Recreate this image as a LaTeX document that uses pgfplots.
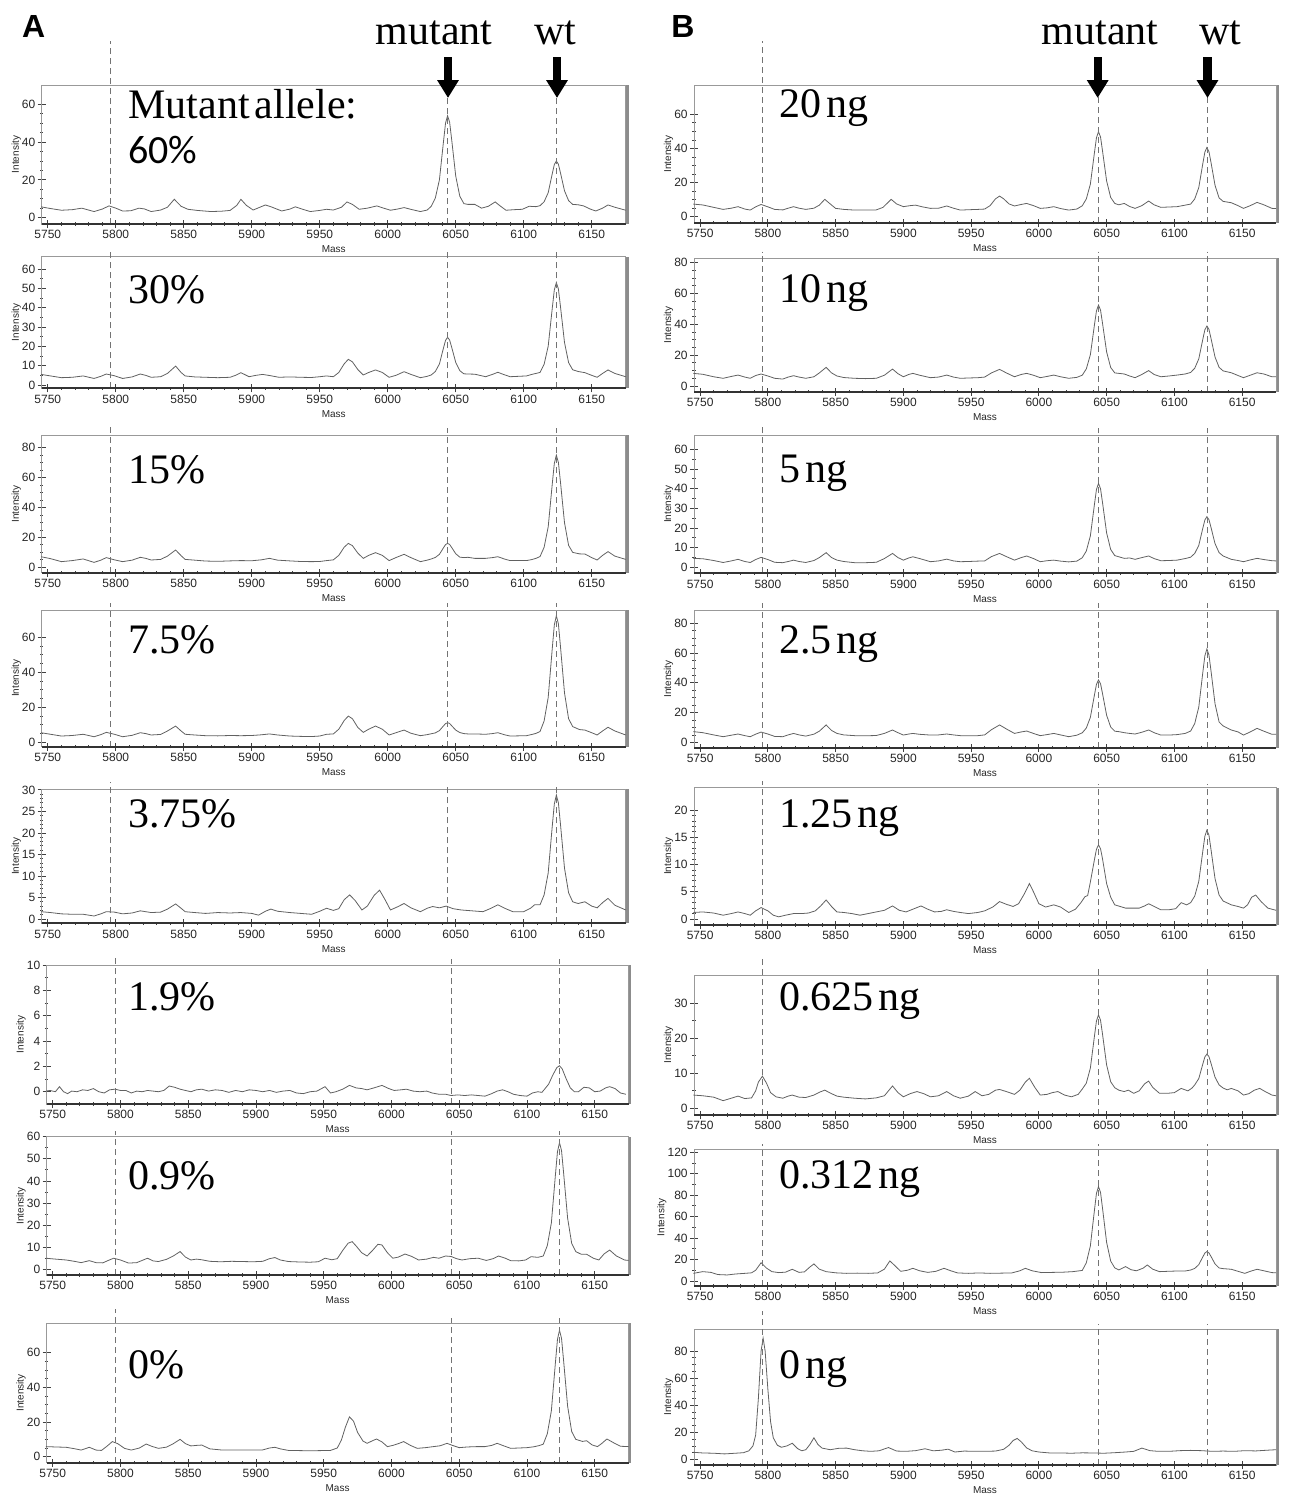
\documentclass[border=0pt]{standalone}
\usepackage{fontspec}
\setmainfont{Liberation Serif}
\newfontfamily\sansfnt{Liberation Sans}
\newfontfamily\calib{Carlito}
\usepackage{pgfplots}
\pgfplotsset{compat=1.18}
\usetikzlibrary{arrows.meta}

\newcommand\tlfont{\sansfnt\fontsize{6}{6.5}\selectfont}
\newcommand\lbfont{\sansfnt\fontsize{5}{6}\selectfont}
\newcommand\bigfont{\fontsize{21}{24}\selectfont}

\pgfplotsset{
  spec/.style={
    scale only axis, anchor=south west, clip=false,
    xmin=5745.5, xmax=6175,
    xtick={5750,5800,...,6150}, minor x tick num=4,
    xtick pos=bottom, ytick pos=left,
    tick align=center,
    major tick length=4pt, minor tick length=1.6pt,
    every tick/.style={black!75, line width=0.4pt},
    axis line style={black!40, line width=0.5pt},
    ticklabel style={font=\tlfont, text=black!85},
    xticklabel style={inner sep=1pt},
    yticklabel style={inner sep=1pt},
    xlabel={Mass}, ylabel={Intensity},
    xlabel style={font=\lbfont, text=black!85, yshift=1pt},
    ylabel style={font=\lbfont, text=black!85, yshift=-4pt},
    /pgf/number format/1000 sep={},
    /pgf/number format/assume math mode=true,
    cycle list={{color=black!62, line width=0.75pt, line join=round, mark=none}},
  }
}

% dashed marker lines at 5796 / 6044 / 6124, dark x axis, shadowed right edge
\newcommand\specmarks[2]{%
  \draw[densely dashed, black!55, line width=0.35pt] ({axis cs:5796,0}|-{rel axis cs:0,0}) -- ({axis cs:5796,0}|-{rel axis cs:0,#1});
  \draw[densely dashed, black!55, line width=0.35pt] ({axis cs:6044,0}|-{rel axis cs:0,0}) -- ({axis cs:6044,0}|-{rel axis cs:0,#2});
  \draw[densely dashed, black!55, line width=0.35pt] ({axis cs:6124,0}|-{rel axis cs:0,0}) -- ({axis cs:6124,0}|-{rel axis cs:0,#2});
  \draw[black!80, line width=0.9pt] (rel axis cs:0,0) -- (rel axis cs:1,0);
  \draw[black!45, line width=1.1pt] (rel axis cs:1.003,0) -- (rel axis cs:1.003,1);
}

\begin{document}
\begin{tikzpicture}
\useasboundingbox (0,0) rectangle (645.5pt,-749.5pt);

% ---------------- column A ----------------
\begin{axis}[spec, at={(20.85pt,-112pt)}, width=292pt, height=69.5pt,
  ymin=-3.4, ymax=70.3, ytick={0,20,40,60}, minor y tick num=3]
\addplot coordinates {(5745,5.7)(5752,4.8)(5760,3.9)(5768,4.2)(5775,5.0)(5784,3.2)(5790,4.5)(5795,6.2)(5800,5.0)(5805,3.5)(5811,3.6)(5817,5.0)(5821,4.6)(5826,3.2)(5833,4.0)(5838,5.5)(5843,9.7)(5848,6.0)(5853,4.4)(5860,3.8)(5870,3.2)(5878,3.4)(5884,3.8)(5889,6.5)(5892,9.7)(5896,6.5)(5901,4.0)(5906,5.5)(5910,6.7)(5915,5.5)(5922,3.5)(5928,4.5)(5932,5.7)(5937,4.5)(5943,3.2)(5950,3.8)(5955,4.4)(5960,4.0)(5966,5.5)(5970,8.3)(5974,7.0)(5979,4.4)(5985,5.0)(5992,6.2)(5997,5.0)(6002,3.9)(6007,4.5)(6012,5.3)(6018,4.2)(6024,3.2)(6029,4.0)(6032,6.0)(6035,10.4)(6038,20)(6041,40.4)(6042.5,50.1)(6044,54)(6045.5,50.6)(6047,41.4)(6050,22)(6053,11.3)(6056,7.4)(6059,7)(6064,7)(6069,5)(6074,6)(6079,8.3)(6083,6)(6087,3.9)(6093,4.2)(6099,4.4)(6104,6)(6109,5.8)(6112,6.3)(6115,8.4)(6118,13.2)(6121,23.3)(6122.5,28.1)(6124,30)(6125.5,28.3)(6127,23.8)(6130,14.2)(6133,9)(6136,7)(6140,6.8)(6144,6.2)(6149,4.5)(6153,3.5)(6158,5)(6162,6.7)(6167,5.5)(6175,3.9)};
\specmarks{1.32}{1.0}
\end{axis}

\begin{axis}[spec, at={(20.85pt,-194.15pt)}, width=292pt, height=65.8pt,
  ymin=-1.7, ymax=66.4, ytick={0,10,...,60}, minor y tick num=1]
\addplot coordinates {(5745,5.5)(5752,4.7)(5760,3.8)(5768,4.0)(5776,4.7)(5784,3.4)(5789,4.5)(5793,5.7)(5799,4.8)(5805,3.4)(5812,4.2)(5818,5.7)(5822,5.0)(5826,4.0)(5833,4.3)(5838,6.0)(5844,9.8)(5848,6.5)(5851,4.7)(5858,4.2)(5866,4.0)(5875,3.8)(5884,4.0)(5888,5.0)(5892,6.4)(5898,4.3)(5903,5.0)(5908,5.5)(5914,4.8)(5920,4.0)(5928,4.2)(5936,4.0)(5944,3.9)(5950,4.3)(5955,4.7)(5960,4.3)(5964,6.5)(5968,11)(5971,13.3)(5974,12)(5978,8)(5982,5.2)(5986,6.5)(5991,7.8)(5996,6.5)(6001,4.0)(6006,5)(6012,6.9)(6017,5.5)(6024,3.8)(6029,4.5)(6032,5.2)(6035,7)(6038,10.9)(6041,19.2)(6042.5,23.1)(6044,24.7)(6045.5,23.3)(6047,19.6)(6050,11.7)(6053,7.4)(6056,5.8)(6059,5.7)(6064,5.6)(6072,4.3)(6077,5.5)(6081,6.6)(6085,5.5)(6090,4.3)(6096,4.5)(6102,4.7)(6106,5.5)(6109,6.0)(6112,6.5)(6115,10.7)(6118,20.1)(6121,39.8)(6122.5,49.2)(6124,53)(6125.5,49.7)(6127,40.8)(6130,22)(6133,11.6)(6136,7.9)(6140,7.0)(6145,6.4)(6150,5)(6154,4.0)(6158,6.0)(6162,7.8)(6167,6.0)(6175,4.3)};
\specmarks{1.05}{1.05}
\end{axis}

\begin{axis}[spec, at={(20.85pt,-286.35pt)}, width=292pt, height=68.85pt,
  ymin=-3.6, ymax=88.5, ytick={0,20,...,80}, minor y tick num=3]
\addplot coordinates {(5745,7.1)(5752,5.8)(5760,3.8)(5768,4.5)(5776,5.6)(5784,3.3)(5789,4.8)(5793,6.5)(5799,5.0)(5805,3.8)(5812,4.8)(5818,6.7)(5822,6.0)(5826,4.9)(5833,5.3)(5838,7.5)(5844,11.6)(5848,7.8)(5851,5.3)(5858,4.8)(5866,4.2)(5875,4.0)(5884,4.3)(5892,4.5)(5900,4.4)(5907,5.0)(5913,6.0)(5919,4.8)(5928,4.3)(5936,3.9)(5944,3.8)(5950,3.9)(5955,4.5)(5960,5.0)(5964,8)(5968,13.5)(5971,16)(5974,14.5)(5978,9.5)(5982,6.0)(5986,8)(5991,9.8)(5996,8.0)(6001,4.5)(6006,6.5)(6012,8.7)(6017,6.5)(6024,3.8)(6029,4.8)(6032,5.6)(6035,6.6)(6038,8.7)(6041,13.1)(6042.5,15.2)(6044,16)(6045.5,15.3)(6047,13.3)(6050,9.1)(6053,6.8)(6056,6.5)(6059,6.7)(6064,6.0)(6072,6.0)(6077,6.5)(6081,7.1)(6086,5.5)(6090,4.5)(6096,4.5)(6102,4.5)(6106,5.2)(6109,6.0)(6112,7.2)(6115,13.4)(6118,27)(6121,55.8)(6122.5,69.5)(6124,75)(6125.5,70.2)(6127,57.2)(6130,29.8)(6133,14.7)(6136,10)(6141,9.0)(6145,8.9)(6150,6.5)(6154,4.9)(6158,8)(6162,10.5)(6167,7.5)(6175,5.3)};
\specmarks{1.07}{1.05}
\end{axis}

\begin{axis}[spec, at={(20.85pt,-373.35pt)}, width=292pt, height=68.35pt,
  ymin=-2.5, ymax=75.6, ytick={0,20,40,60}, minor y tick num=3]
\addplot coordinates {(5745,5.5)(5752,4.6)(5760,3.6)(5768,3.9)(5776,4.6)(5784,3.2)(5789,4.4)(5793,5.7)(5799,4.6)(5805,3.2)(5812,4.0)(5818,5.5)(5822,5.0)(5826,4.2)(5833,4.5)(5838,6.5)(5844,9.3)(5848,6.5)(5851,4.6)(5858,4.2)(5866,3.8)(5875,3.7)(5884,3.9)(5892,3.8)(5900,3.9)(5907,4.3)(5913,4.8)(5919,4.2)(5928,3.6)(5936,3.4)(5944,3.3)(5950,3.6)(5955,4.6)(5960,4.8)(5964,7.5)(5968,12.5)(5971,15)(5974,13.5)(5978,8.5)(5982,5.7)(5986,7.5)(5991,9.3)(5996,7.5)(6001,4.2)(6006,5.5)(6012,7.0)(6017,5.2)(6024,3.8)(6029,4.4)(6032,4.9)(6035,5.4)(6038,6.7)(6041,9.4)(6042.5,10.7)(6044,11.2)(6045.5,10.8)(6047,9.5)(6050,7)(6053,5.6)(6056,5)(6059,4.8)(6064,4.8)(6072,4.6)(6077,5.0)(6081,5.5)(6086,4.3)(6090,3.6)(6096,3.7)(6102,3.8)(6106,4.5)(6109,5.1)(6112,6.2)(6115,12.2)(6118,25.6)(6121,53.7)(6122.5,67.0)(6124,72.4)(6125.5,67.7)(6127,55)(6130,28.2)(6133,13.5)(6136,9)(6141,7.3)(6145,7.0)(6150,5.5)(6154,4.2)(6158,6.5)(6162,8.6)(6167,6.5)(6175,4.2)};
\specmarks{1.05}{1.05}
\end{axis}

\begin{axis}[spec, at={(20.85pt,-461.65pt)}, width=292pt, height=67.15pt,
  ymin=-1.0, ymax=30.2, ytick={0,5,...,30}, minor y tick num=4]
\addplot coordinates {(5745,1.7)(5752,1.5)(5760,1.2)(5768,1.1)(5776,1.1)(5784,0.7)(5789,1.2)(5793,1.7)(5799,1.6)(5805,1.2)(5812,1.4)(5818,1.9)(5822,1.7)(5826,1.5)(5833,1.6)(5838,2.3)(5844,3.5)(5848,2.5)(5851,1.7)(5858,1.5)(5866,1.3)(5875,1.5)(5884,1.4)(5892,1.5)(5900,1.3)(5905,0.9)(5910,1.8)(5914,2.3)(5919,1.8)(5928,1.5)(5936,1.3)(5944,1.1)(5950,1.8)(5955,2.5)(5960,2.0)(5964,2.4)(5968,4.5)(5972,5.6)(5976,4.3)(5981,2.1)(5985,3.0)(5990,5.5)(5994,6.7)(5998,4.5)(6002,2.1)(6007,2.8)(6012,3.6)(6017,2.6)(6024,1.7)(6029,2.5)(6033,2.9)(6038,2.6)(6043,3.0)(6048,2.4)(6054,2.1)(6062,1.9)(6070,1.7)(6076,2.5)(6081,3.3)(6086,2.5)(6092,1.7)(6100,1.7)(6105,2.5)(6108,3.3)(6112,3.3)(6115,5.6)(6118,10.7)(6121,21.6)(6122.5,26.7)(6124,28.8)(6125.5,27.0)(6127,22.1)(6130,11.8)(6133,6.1)(6136,4)(6140,3.6)(6145,4.0)(6150,3.0)(6154,2.6)(6158,3.8)(6162,4.8)(6167,3.2)(6175,2.1)};
\specmarks{1.05}{1.03}
\end{axis}

\begin{axis}[spec, at={(23.3pt,-552pt)}, width=291pt, height=69.5pt,
  ymin=-0.97, ymax=10, ytick={0,2,...,10}, minor y tick num=1]
\addplot coordinates {(5745,0.05)(5748,0.1)(5752,0.0)(5755,0.4)(5758,0.0)(5761,-0.15)(5764,0.05)(5768,0.0)(5772,0.15)(5776,0.1)(5780,0.25)(5784,0.0)(5788,-0.1)(5792,0.15)(5796,0.2)(5800,0.1)(5804,0.1)(5808,-0.1)(5812,0.05)(5816,0.0)(5820,0.1)(5824,0.05)(5828,0.0)(5832,0.1)(5836,0.45)(5840,0.35)(5844,0.2)(5848,0.1)(5852,0.0)(5856,0.15)(5860,0.2)(5865,0.05)(5870,0.15)(5875,0.1)(5880,-0.05)(5885,0.1)(5890,0.0)(5895,0.15)(5900,0.1)(5905,0.0)(5910,0.1)(5915,-0.05)(5920,0.05)(5925,0.1)(5930,-0.1)(5935,-0.15)(5940,0.0)(5945,0.05)(5951,0.4)(5955,-0.1)(5959,0.0)(5964,0.2)(5969,0.5)(5974,0.3)(5978,0.25)(5982,0.15)(5987,0.3)(5993,0.5)(5998,0.25)(6002,0.1)(6007,0.15)(6011,0.2)(6016,0.05)(6021,0.0)(6026,0.05)(6030,-0.1)(6035,-0.2)(6040,-0.2)(6044,-0.3)(6049,-0.25)(6054,-0.3)(6059,-0.25)(6064,-0.3)(6069,-0.35)(6074,-0.15)(6078,0.05)(6082,0.15)(6086,0.0)(6090,-0.2)(6095,-0.3)(6100,-0.35)(6104,-0.1)(6108,0.0)(6111,-0.05)(6113,0.2)(6116,0.6)(6119,1.3)(6122,1.9)(6124,2.05)(6126,1.8)(6129,1.0)(6132,0.3)(6135,0.0)(6138,0.0)(6142,0.35)(6146,0.3)(6150,0.0)(6154,0.05)(6158,0.3)(6161,0.4)(6165,0.25)(6169,-0.1)(6173,-0.2)};
\specmarks{1.06}{1.04}
\end{axis}

\begin{axis}[spec, at={(23.3pt,-637.5pt)}, width=291pt, height=69.15pt,
  ymin=-2.6, ymax=60, ytick={0,10,...,60}, minor y tick num=1]
\addplot coordinates {(5745,5.0)(5752,4.6)(5760,4.2)(5766,3.6)(5771,3.0)(5777,3.9)(5782,3.0)(5787,2.9)(5791,4.0)(5795,5.0)(5800,4.2)(5806,2.8)(5812,3.0)(5816,4.0)(5820,5.0)(5824,3.8)(5828,3.5)(5834,4.5)(5839,6.0)(5844,8.0)(5848,5.5)(5852,4.2)(5856,4.6)(5860,4.3)(5866,3.6)(5874,3.4)(5882,3.6)(5890,3.5)(5898,3.4)(5905,3.6)(5910,4.8)(5914,5.3)(5918,4.2)(5924,3.5)(5932,3.3)(5940,3.2)(5946,3.4)(5951,5.0)(5956,4.3)(5960,4.8)(5964,8.5)(5968,11.8)(5971,12.5)(5974,10.5)(5978,7.5)(5982,6.0)(5986,8.5)(5990,11.3)(5993,11.0)(5997,7.5)(6001,5.0)(6005,5.5)(6010,6.9)(6015,5.8)(6020,4.2)(6026,4.6)(6031,5.4)(6035,5.0)(6040,6.0)(6044,5.8)(6048,4.8)(6052,4.2)(6058,4.8)(6064,5.0)(6070,4.0)(6075,4.8)(6079,6.0)(6084,5.0)(6088,3.9)(6094,3.8)(6099,4.2)(6103,5.7)(6108,5.4)(6112,6)(6115,10.7)(6118,21)(6121,42.8)(6122.5,53.2)(6124,57.3)(6125.5,53.7)(6127,43.8)(6130,23.1)(6133,11.7)(6136,8)(6140,6.8)(6144,6.8)(6149,5)(6153,4.2)(6157,7)(6161,8.7)(6166,6)(6172,4.2)(6175,4.0)};
\specmarks{1.04}{1.04}
\end{axis}

\begin{axis}[spec, at={(23.3pt,-731.35pt)}, width=291pt, height=69.7pt,
  ymin=-3.5, ymax=77, ytick={0,20,40,60}, minor y tick num=3]
\addplot coordinates {(5745,5.8)(5752,5.6)(5760,5.4)(5766,4.6)(5771,3.8)(5777,5.4)(5782,3.8)(5786,3.6)(5790,6.0)(5794,8.7)(5798,7.5)(5803,4.8)(5808,3.8)(5814,5.0)(5819,7.3)(5823,6.0)(5828,4.8)(5834,5.5)(5839,7.5)(5844,10)(5848,7.5)(5852,6.2)(5856,6.5)(5860,6.7)(5866,4.5)(5874,3.9)(5882,3.8)(5890,3.8)(5898,3.9)(5905,3.9)(5910,5.0)(5914,5.4)(5918,4.5)(5924,3.6)(5932,3.5)(5940,3.4)(5948,3.5)(5955,3.6)(5960,5.0)(5963,9.5)(5966,17)(5969,23)(5972,20.5)(5975,14)(5979,9)(5982,7.7)(5986,9.2)(5989,10.2)(5993,8.5)(5997,5.8)(6001,6.5)(6005,7.5)(6009,8.7)(6014,6.5)(6019,4.8)(6025,5.2)(6031,5.8)(6036,6.3)(6041,7.7)(6045,6.5)(6050,5.2)(6056,5.6)(6063,5.8)(6069,5.8)(6074,6.5)(6078,7.7)(6083,6.2)(6088,4.8)(6094,5.0)(6100,5.2)(6105,5.7)(6109,6.4)(6112,7.2)(6115,13.2)(6118,26.5)(6121,54.4)(6122.5,67.7)(6124,73)(6125.5,68.3)(6127,55.7)(6130,29.1)(6133,14.5)(6136,10)(6141,8.8)(6144,9.2)(6148,6.8)(6152,5.8)(6155,7.5)(6159,10.2)(6164,8)(6169,6)(6175,5.8)};
\specmarks{1.1}{1.04}
\end{axis}

% ---------------- column B ----------------
\begin{axis}[spec, at={(347pt,-111.35pt)}, width=291pt, height=68.85pt,
  ymin=-3.5, ymax=77.2, ytick={0,20,40,60}, minor y tick num=3]
\addplot coordinates {(5745,7.4)(5752,6.9)(5760,5.5)(5767,4.3)(5773,5.0)(5778,5.9)(5783,4.5)(5787,3.9)(5791,5.8)(5795,7.2)(5800,5.8)(5805,4.3)(5811,4.0)(5815,5.0)(5819,5.9)(5823,5.0)(5828,4.3)(5834,5.0)(5838,6.8)(5842,10.2)(5846,7.5)(5850,4.9)(5856,4.3)(5864,3.9)(5872,3.9)(5880,4.0)(5885,5.5)(5891,10.2)(5895,7.5)(5900,5.9)(5905,6.5)(5909,6.8)(5914,5.8)(5920,4.9)(5926,5.0)(5932,6.3)(5937,5.0)(5942,3.9)(5948,4.1)(5955,4.3)(5960,4.5)(5964,6.5)(5968,10.5)(5971,12.1)(5974,10.5)(5978,7.5)(5982,6.3)(5987,7.2)(5991,7.8)(5996,6.5)(6001,4.9)(6006,5.2)(6011,5.9)(6016,4.8)(6022,3.9)(6028,4.5)(6032,6.4)(6035,10.4)(6038,19.1)(6041,37.5)(6042.5,46.3)(6044,49.8)(6045.5,46.7)(6047,38.4)(6050,20.9)(6053,11.3)(6056,7.8)(6059,7.0)(6063,7.8)(6067,6.0)(6071,4.9)(6076,6.5)(6081,9.2)(6085,7.0)(6090,5.5)(6096,5.7)(6102,5.9)(6108,6.8)(6112,7.4)(6115,10.4)(6118,17.1)(6121,31.2)(6122.5,37.9)(6124,40.6)(6125.5,38.2)(6127,31.9)(6130,18.4)(6133,11)(6136,9)(6142,8.2)(6147,6.5)(6151,4.9)(6156,6.5)(6161,8.4)(6166,7.0)(6172,4.9)(6175,4.8)};
\specmarks{1.32}{1.0}
\end{axis}

\begin{axis}[spec, at={(347pt,-195.85pt)}, width=291pt, height=66.7pt,
  ymin=-3.7, ymax=82.9, ytick={0,20,...,80}, minor y tick num=3]
\addplot coordinates {(5745,8.2)(5752,7.6)(5760,6.0)(5767,5.0)(5773,6.2)(5778,7.1)(5783,5.8)(5787,5.0)(5791,6.8)(5795,7.8)(5800,6.5)(5805,5.0)(5811,4.5)(5815,5.8)(5819,6.7)(5823,5.8)(5828,5.0)(5834,6.0)(5838,8.5)(5843,12.1)(5847,8.5)(5851,6.5)(5856,5.5)(5864,5.0)(5872,4.8)(5880,5.0)(5886,7.0)(5892,11.0)(5896,8.0)(5900,6.0)(5904,7.5)(5907,8.2)(5912,7.0)(5920,5.4)(5926,5.8)(5932,7.1)(5937,5.8)(5942,5.0)(5948,5.2)(5955,5.4)(5960,5.8)(5965,8.5)(5971,10.8)(5976,8.5)(5982,6.0)(5987,7.5)(5991,8.2)(5996,7.0)(6001,5.4)(6006,6.2)(6011,7.1)(6016,6.0)(6022,5.0)(6028,5.6)(6032,7)(6035,11.1)(6038,20.3)(6041,39.6)(6042.5,48.8)(6044,52.5)(6045.5,49.3)(6047,40.5)(6050,22.1)(6053,12)(6056,8.5)(6059,8.2)(6063,7.8)(6067,6.5)(6071,5.4)(6076,7.5)(6081,10)(6085,7.5)(6090,6.0)(6096,6.5)(6102,7.1)(6108,7.8)(6112,8.8)(6115,11.5)(6118,17.6)(6121,30.4)(6122.5,36.5)(6124,38.9)(6125.5,36.8)(6127,31)(6130,18.8)(6133,12.1)(6136,9.8)(6142,8.6)(6147,6.8)(6151,5.4)(6156,7.0)(6161,8.6)(6166,7.8)(6172,6.0)(6175,6.0)};
\specmarks{1.05}{1.05}
\end{axis}

\begin{axis}[spec, at={(347pt,-286.65pt)}, width=291pt, height=69.15pt,
  ymin=-3, ymax=67.3, ytick={0,10,...,60}, minor y tick num=1]
\addplot coordinates {(5745,4.6)(5752,4.4)(5760,3.5)(5767,2.5)(5773,3.3)(5778,4.1)(5783,3.0)(5787,2.5)(5791,4.0)(5795,5.1)(5800,4.0)(5805,2.6)(5811,2.4)(5815,3.0)(5819,3.7)(5823,3.0)(5828,2.5)(5834,3.5)(5838,5.0)(5843,7.5)(5847,5.0)(5851,3.7)(5856,3.0)(5864,2.4)(5872,2.4)(5880,2.6)(5886,4.5)(5892,7.1)(5896,5.0)(5900,3.7)(5904,4.8)(5907,5.4)(5912,4.5)(5920,2.9)(5926,3.3)(5932,4.2)(5937,3.3)(5942,2.9)(5948,3.0)(5955,3.2)(5960,3.3)(5965,5.5)(5971,7.1)(5976,5.5)(5982,3.7)(5987,5.0)(5991,5.8)(5996,4.5)(6001,2.9)(6006,3.4)(6011,3.7)(6016,3.2)(6022,2.8)(6028,3.2)(6032,4.9)(6035,8.3)(6038,16)(6041,32)(6042.5,39.6)(6044,42.7)(6045.5,40.0)(6047,32.8)(6050,17.5)(6053,9.1)(6056,6)(6059,5.4)(6063,4.6)(6067,4.8)(6071,4.1)(6076,5.0)(6081,5.8)(6085,4.5)(6090,3.4)(6096,3.5)(6102,3.7)(6108,4.5)(6112,5.2)(6115,7.1)(6118,11.2)(6121,20)(6122.5,24.1)(6124,25.8)(6125.5,24.3)(6127,20.4)(6130,12.1)(6133,7.5)(6136,5.8)(6142,4.1)(6147,3.5)(6151,2.9)(6156,3.8)(6161,4.6)(6166,4.0)(6172,3.4)(6175,3.3)};
\specmarks{1.07}{1.05}
\end{axis}

\begin{axis}[spec, at={(347pt,-373.85pt)}, width=291pt, height=68.85pt,
  ymin=-3.6, ymax=88.9, ytick={0,20,...,80}, minor y tick num=3]
\addplot coordinates {(5745,7.2)(5752,6.5)(5760,5.0)(5767,3.8)(5773,4.8)(5778,5.6)(5783,4.5)(5787,3.8)(5791,5.5)(5795,6.9)(5800,5.6)(5805,4.0)(5811,3.8)(5815,5.0)(5819,6.0)(5823,5.0)(5828,4.2)(5834,5.5)(5838,7.5)(5843,11.7)(5847,8.0)(5851,6.0)(5856,5.0)(5864,4.5)(5872,4.4)(5880,4.6)(5886,6.0)(5892,8.3)(5896,6.5)(5900,4.9)(5904,5.6)(5907,6.0)(5912,5.4)(5920,4.9)(5926,5.0)(5932,5.6)(5937,5.0)(5942,4.5)(5948,4.5)(5955,4.5)(5960,5.0)(5965,8.5)(5971,11.7)(5976,9.0)(5982,6.0)(5987,7.0)(5991,7.6)(5996,6.0)(6001,4.5)(6006,5.2)(6011,6.0)(6016,5.0)(6022,3.8)(6028,4.8)(6032,6.4)(6035,9.6)(6038,16.8)(6041,31.8)(6042.5,39.0)(6044,41.9)(6045.5,39.4)(6047,32.6)(6050,18.2)(6053,10.3)(6056,7.5)(6059,7.2)(6063,6.5)(6067,6.0)(6071,5.6)(6076,6.8)(6081,8.3)(6085,6.5)(6090,4.9)(6096,4.9)(6102,5.2)(6108,6.0)(6112,7.6)(6115,12.6)(6118,23.7)(6121,47.1)(6122.5,58.2)(6124,62.7)(6125.5,58.8)(6127,48.2)(6130,25.9)(6133,13.7)(6136,11)(6142,8.3)(6147,7.0)(6151,4.9)(6156,7.0)(6161,9.4)(6166,7.5)(6172,5.4)(6175,5.4)};
\specmarks{1.05}{1.05}
\end{axis}

\begin{axis}[spec, at={(347pt,-462.5pt)}, width=291pt, height=68.65pt,
  ymin=-1.1, ymax=24.1, ytick={0,5,...,20}, minor y tick num=4]
\addplot coordinates {(5745,1.2)(5752,1.3)(5760,1.1)(5767,0.7)(5773,1.0)(5778,1.3)(5783,1.0)(5787,0.7)(5791,1.5)(5795,2.1)(5800,1.5)(5804,0.7)(5808,0.4)(5813,0.7)(5819,1.0)(5825,1.0)(5830,1.1)(5835,1.5)(5839,2.4)(5843,3.5)(5847,2.3)(5851,1.3)(5856,1.2)(5862,1.0)(5868,0.7)(5874,1.0)(5880,1.3)(5886,1.6)(5892,2.4)(5897,1.6)(5902,1.3)(5907,1.8)(5913,2.4)(5918,1.8)(5923,1.3)(5928,1.4)(5932,1.7)(5937,1.4)(5942,1.2)(5948,1.0)(5955,1.2)(5960,1.5)(5966,2.2)(5971,3.2)(5976,2.7)(5981,2.3)(5985,2.8)(5989,4.5)(5993,6.5)(5996,5.0)(6000,2.8)(6005,2.2)(6011,2.6)(6016,2.2)(6022,1.2)(6027,1.8)(6031,3.0)(6034,4.1)(6036,4.3)(6038,6.8)(6041,10.9)(6042.5,12.8)(6044,13.6)(6045.5,12.9)(6047,11.0)(6050,6.5)(6053,4.0)(6056,2.6)(6060,2.3)(6064,2.0)(6069,2.0)(6074,2.0)(6078,2.4)(6081,2.8)(6086,2.2)(6090,1.7)(6096,1.7)(6101,1.9)(6105,3.0)(6109,2.6)(6112,3)(6115,4.2)(6118,6.9)(6121,12.5)(6122.5,15.2)(6124,16.3)(6125.5,15.4)(6127,12.8)(6130,7.4)(6133,4.4)(6136,3.3)(6142,2.6)(6147,2.3)(6151,2.0)(6154,2.6)(6157,4.0)(6160,4.4)(6164,3.2)(6169,2.0)(6175,1.6)};
\specmarks{1.05}{1.03}
\end{axis}

\begin{axis}[spec, at={(347pt,-557.5pt)}, width=291pt, height=70pt,
  ymin=-1.9, ymax=38.1, ytick={0,10,20,30}, minor y tick num=1]
\addplot coordinates {(5745,3.8)(5752,3.6)(5760,3.2)(5767,2.2)(5773,2.9)(5778,3.5)(5783,2.8)(5788,3.0)(5791,5.0)(5793,7.5)(5796,9.2)(5799,7.2)(5802,4.5)(5806,3.3)(5811,2.9)(5815,3.5)(5818,3.8)(5823,3.2)(5828,3.1)(5834,3.8)(5838,4.6)(5842,5.2)(5847,4.2)(5851,3.5)(5856,3.2)(5864,2.9)(5872,2.7)(5880,3.0)(5886,3.6)(5892,6.4)(5896,4.5)(5900,3.3)(5905,4.2)(5910,4.8)(5915,4.2)(5920,3.3)(5926,3.6)(5932,4.8)(5937,3.6)(5942,2.9)(5948,3.5)(5953,4.8)(5958,3.6)(5963,4.0)(5968,5.2)(5971,5.4)(5976,4.8)(5982,4.0)(5986,5.2)(5990,7.5)(5993,8.6)(5997,6.0)(6001,3.8)(6006,4.0)(6010,4.5)(6014,4.8)(6019,3.8)(6024,3.3)(6029,4.0)(6032,5.5)(6035,7.2)(6038,11.5)(6041,20.6)(6042.5,25.0)(6044,26.7)(6045.5,25.2)(6047,21.1)(6050,12.4)(6053,7.6)(6056,5.9)(6059,5.2)(6063,4.8)(6066,5.2)(6070,4.3)(6074,5.0)(6078,7.0)(6081,7.8)(6084,6.0)(6089,4.3)(6095,4.3)(6100,4.5)(6105,5.7)(6110,5.0)(6113,5.8)(6115,6.7)(6118,8.5)(6121,12.7)(6122.5,14.7)(6124,15.5)(6125.5,14.8)(6127,12.9)(6130,8.9)(6133,6.7)(6136,5.8)(6139,5.3)(6142,5.7)(6147,5.0)(6151,3.8)(6155,4.2)(6159,5.2)(6163,5.7)(6167,4.8)(6172,3.8)(6175,3.6)};
\specmarks{1.13}{1.04}
\end{axis}

\begin{axis}[spec, at={(347pt,-643pt)}, width=291pt, height=68.5pt,
  ymin=-4.7, ymax=123, ytick={0,20,...,120}, minor y tick num=1]
\addplot coordinates {(5745,7.1)(5752,8.7)(5758,8.0)(5763,6.0)(5770,5.6)(5776,6.5)(5783,7.1)(5788,7.6)(5791,10)(5795,17)(5799,12)(5803,8.7)(5808,7.8)(5813,8.2)(5818,10.9)(5823,8.0)(5827,8.5)(5831,13)(5834,15.9)(5838,11)(5843,8.7)(5850,7.6)(5858,7.1)(5866,7.3)(5874,7.1)(5881,7.5)(5886,11)(5890,18.7)(5894,14)(5898,9)(5903,10)(5907,11.8)(5912,9.5)(5918,8.0)(5924,9.0)(5930,11.8)(5935,9.5)(5940,7.5)(5948,7.1)(5956,7.5)(5964,7.1)(5972,7.3)(5980,7.5)(5986,9.5)(5990,11.8)(5995,9.5)(6002,7.8)(6010,8.0)(6018,8.2)(6025,8.7)(6032,9.8)(6035,16.9)(6038,32.7)(6041,65.9)(6042.5,81.7)(6044,88)(6045.5,82.5)(6047,67.5)(6050,35.9)(6053,18.5)(6056,12.2)(6059,10.3)(6064,13.4)(6068,10.5)(6072,9.5)(6077,12)(6080,14.9)(6084,11)(6089,8.7)(6095,9.0)(6102,9.3)(6108,9.3)(6112,10.2)(6115,11.7)(6118,15.2)(6121,22.5)(6122.5,26.0)(6124,27.4)(6125.5,26.2)(6127,22.9)(6130,15.9)(6133,12.1)(6136,11.5)(6142,10.9)(6147,9.0)(6152,7.1)(6156,9.0)(6161,10.9)(6166,9.5)(6172,7.8)(6175,7.6)};
\specmarks{1.04}{1.04}
\end{axis}

\begin{axis}[spec, at={(347pt,-732.5pt)}, width=291pt, height=68pt,
  ymin=-4.1, ymax=96.3, ytick={0,20,...,80}, minor y tick num=3]
\addplot coordinates {(5745,5.3)(5752,4.8)(5760,4.6)(5768,4.1)(5776,4.6)(5782,5.0)(5786,6.4)(5789,10)(5791,18)(5793,45)(5795,80)(5796.5,89.6)(5798,80)(5800,52)(5802,28)(5804,16)(5807,10.5)(5810,9.0)(5814,10)(5818,12)(5822,8)(5825,6.4)(5828,7.2)(5831,11)(5834,16)(5837,11)(5840,8.4)(5846,7.2)(5852,8.2)(5858,8.4)(5864,7.2)(5870,6.4)(5876,6.0)(5882,6.4)(5889,8.8)(5895,6.2)(5902,6.0)(5909,6.5)(5916,7.9)(5922,6.4)(5928,6.8)(5933,7.6)(5938,5.5)(5945,6.2)(5952,6.0)(5960,6.0)(5968,6.2)(5974,7.5)(5978,10.5)(5981,14)(5984,15.5)(5987,13)(5991,8.5)(5995,6.4)(6000,5.5)(6008,4.8)(6016,4.8)(6024,4.6)(6032,4.9)(6040,4.8)(6048,4.6)(6056,5.0)(6064,5.5)(6070,6.0)(6076,8.4)(6082,6.5)(6088,6.0)(6096,6.0)(6104,6.5)(6112,6.7)(6120,6.5)(6128,6.0)(6136,6.2)(6144,6.0)(6152,6.5)(6160,6.3)(6168,6.8)(6175,7.2)};
\specmarks{1.13}{1.04}
\end{axis}

% ---------------- headings, arrows, labels ----------------
\node[anchor=base west, inner sep=0, font=\sansfnt\bfseries\fontsize{16}{18}\selectfont] at (10.85pt,-19pt) {A};
\node[anchor=base west, inner sep=0, font=\sansfnt\bfseries\fontsize{16}{18}\selectfont] at (335.5pt,-19pt) {B};

\node[anchor=base, inner sep=0, font=\bigfont] at (217pt,-22pt) {mutant};
\node[anchor=base, inner sep=0, font=\bigfont] at (277.5pt,-22pt) {wt};
\node[anchor=base, inner sep=0, font=\bigfont] at (550pt,-22pt) {mutant};
\node[anchor=base, inner sep=0, font=\bigfont] at (610pt,-22pt) {wt};

\foreach \ax in {224pt,278.5pt,548.85pt,603.75pt}
  \draw[line width=4.2pt, -{Triangle[width=10.3pt,length=9pt]}] (\ax,-28.5pt) -- (\ax,-49pt);

\begin{scope}[every node/.style={anchor=base west, inner sep=0, font=\bigfont}]
\node at (64pt,-59pt) {Mutant\hspace{0.12em}allele:};
\node[font=\calib\fontsize{20}{22}\selectfont] at (64pt,-81.5pt) {60\%};
\node at (64pt,-151.5pt) {30\%};
\node at (64pt,-241.5pt) {15\%};
\node at (64pt,-326.5pt) {7.5\%};
\node at (64pt,-413.5pt) {3.75\%};
\node at (64pt,-505pt) {1.9\%};
\node at (64pt,-594.5pt) {0.9\%};
\node at (64pt,-689pt) {0\%};
\node at (389.4pt,-58.5pt) {20\hspace{0.12em}ng};
\node at (389.4pt,-151pt) {10\hspace{0.12em}ng};
\node at (389.4pt,-241pt) {5\hspace{0.12em}ng};
\node at (389.4pt,-326.5pt) {2.5\hspace{0.12em}ng};
\node at (389.4pt,-413.5pt) {1.25\hspace{0.12em}ng};
\node at (389.4pt,-505pt) {0.625\hspace{0.12em}ng};
\node at (389.4pt,-594pt) {0.312\hspace{0.12em}ng};
\node at (389.4pt,-689pt) {0\hspace{0.12em}ng};
\end{scope}
\end{tikzpicture}
\end{document}
